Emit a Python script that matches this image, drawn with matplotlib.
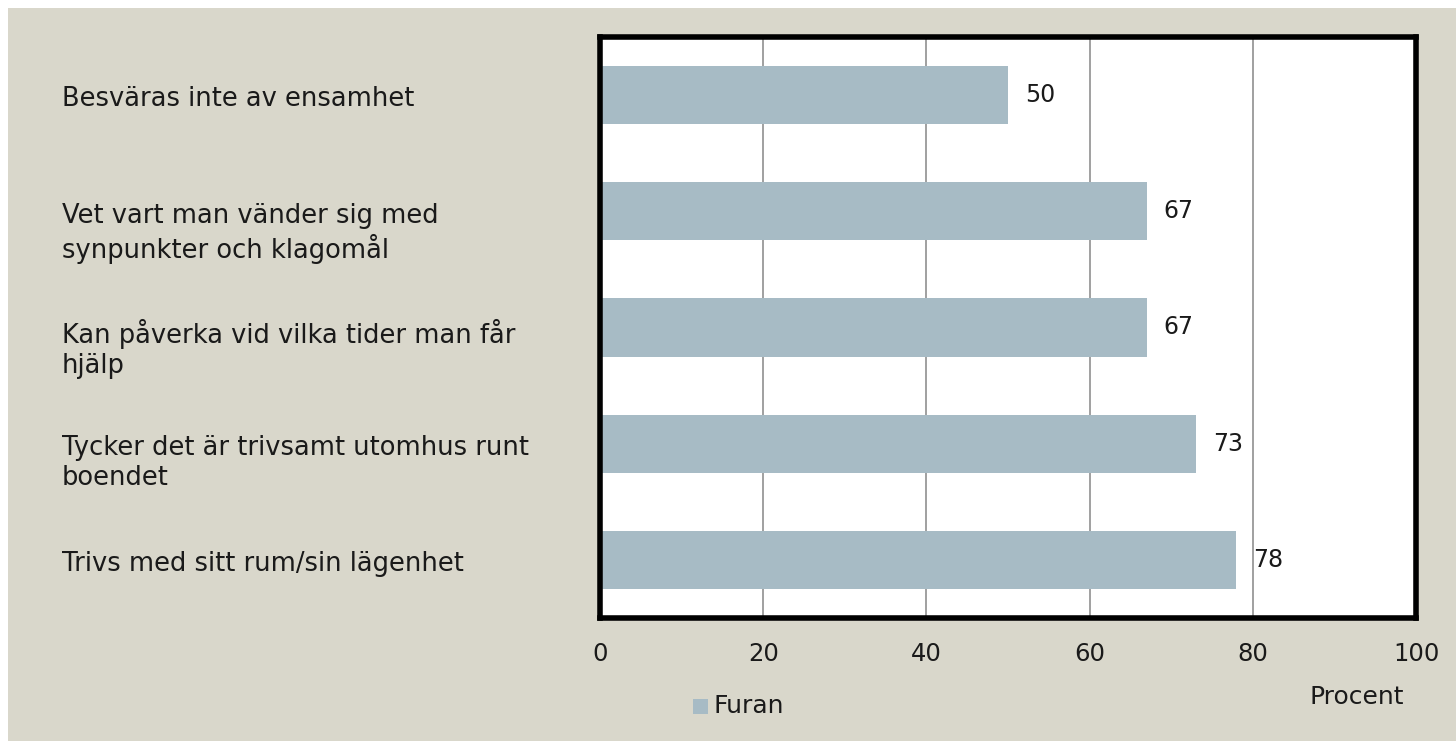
import matplotlib
matplotlib.use("Agg")
import matplotlib.pyplot as plt
from matplotlib.patches import Rectangle

plt.rcParams['font.family'] = ['DejaVu Sans']

categories = [
    "Besväras inte av ensamhet",
    "Vet vart man vänder sig med\nsynpunkter och klagomål",
    "Kan påverka vid vilka tider man får\nhjälp",
    "Tycker det är trivsamt utomhus runt\nboendet",
    "Trivs med sitt rum/sin lägenhet",
]
values = [50, 67, 67, 73, 78]
series_name = "Furan"
xticks = [0, 20, 40, 60, 80, 100]

bg = "#d9d7cb"
bar_color = "#a7bbc5"
txt = "#1a1a1a"

fig = plt.figure(figsize=(14.56, 7.41), dpi=100)
fig.patch.set_facecolor("white")
fig.patches.append(Rectangle((8 / 1456, 0), 1, 1 - 8 / 741, transform=fig.transFigure,
                             facecolor=bg, edgecolor="none", zorder=-10))

ax = fig.add_axes([600 / 1456, 1 - 618 / 741, 816 / 1456, 581 / 741])
ax.set_facecolor("white")

y = list(range(len(categories)))
ax.barh(y, values, height=0.5, color=bar_color, zorder=2, label=series_name)
for yi, v in zip(y, values):
    ax.text(v + 2.1, yi, str(v), va="center", ha="left", fontsize=17, color=txt)

ax.set_xlim(0, 100)
ax.set_ylim(len(categories) - 0.5, -0.5)
ax.set_xticks(xticks)
ax.set_xticklabels([str(t) for t in xticks], fontsize=17.5, color=txt)
ax.tick_params(axis="x", length=0, pad=17)
ax.set_yticks([])
ax.grid(axis="x", color="#999999", linewidth=1.3, zorder=1)
for s in ax.spines.values():
    s.set_linewidth(4)
    s.set_color("black")

# labels: first line hangs just below bar centre
for yi, lab in zip(y, categories):
    ax.text(-538 / 816 * 100, yi - 0.075, lab, ha="left", va="top", fontsize=18.5,
            color=txt, linespacing=1.22, clip_on=False)

fig.text(1357 / 1456, 1 - 697 / 741, "Procent", ha="center", va="center", fontsize=18, color=txt)
fig.patches.append(Rectangle((693 / 1456, 1 - 714 / 741), 15 / 1456, 15 / 741,
                             transform=fig.transFigure, facecolor=bar_color, edgecolor="none"))
fig.text(714 / 1456, 1 - 706 / 741, series_name, ha="left", va="center", fontsize=18, color=txt)

fig.savefig("out.png", dpi=100, facecolor=fig.get_facecolor())
